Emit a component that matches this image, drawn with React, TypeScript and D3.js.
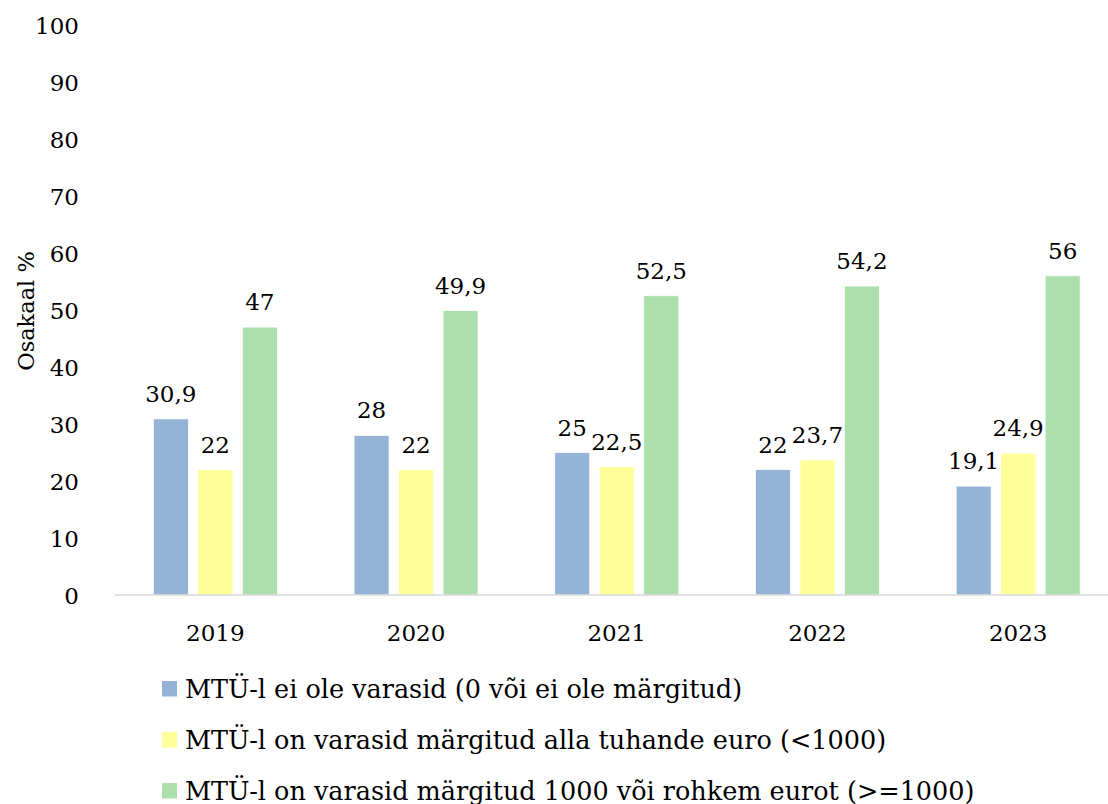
import React from "react";
import * as d3 from "d3";

const years = ["2019", "2020", "2021", "2022", "2023"];
const seriesNames = [
  "MTÜ-l ei ole varasid (0 või ei ole märgitud)",
  "MTÜ-l on varasid märgitud alla tuhande euro (<1000)",
  "MTÜ-l on varasid märgitud 1000 või rohkem eurot (>=1000)",
];
const noAssets = [30.9, 28, 25, 22, 19.1];
const under1000 = [22, 22, 22.5, 23.7, 24.9];
const over1000 = [47, 49.9, 52.5, 54.2, 56];
const colors = ["#95B3D7", "#FFFF99", "#ADDFAD"];
const yTicks = [0, 10, 20, 30, 40, 50, 60, 70, 80, 90, 100];

const W = 1108;
const H = 804;
const FONT = "'DejaVu Serif', serif";
const FS = 23;
const tStyle = { fontFamily: FONT };

export default function App() {
  const series = [noAssets, under1000, over1000];
  const x0 = d3.scaleBand<string>().domain(years).range([115, 115 + 200.7 * 5]).paddingInner(0).paddingOuter(0);
  const y = d3.scaleLinear().domain([0, 100]).range([595, 25]);
  const barW = 35;
  const step = 44.5;
  const groupW = barW * 3 + (step - barW) * 2;
  const fmt = (v: number) => String(v).replace(".", ",");

  return (
    <svg
      width={W}
      height={H}
      style={{ position: "absolute", left: 0, top: 0, background: "#fff", fontFamily: FONT }}
    >
      {yTicks.map((t) => (
        <text key={t} x={79} y={y(t) + 9} textAnchor="end" fontSize={FS} fill="#000" style={tStyle}>
          {t}
        </text>
      ))}
      <text
        transform={`translate(34, ${311}) rotate(-90)`}
        textAnchor="middle"
        fontSize={22.5}
        fill="#000"
        style={tStyle}
      >
        Osakaal %
      </text>
      {years.map((yr, i) => {
        const cx = (x0(yr) as number) + x0.bandwidth() / 2;
        const start = cx - groupW / 2;
        return (
          <g key={yr}>
            {series.map((s, k) => {
              const bx = start + k * step;
              const top = y(s[i]);
              return (
                <g key={k}>
                  <rect
                    x={bx}
                    y={top}
                    width={barW}
                    height={y(0) - top}
                    fill={colors[k]}
                    stroke="#fff"
                    strokeWidth={0.75}
                  />
                  <text x={bx + barW / 2} y={top - 17} textAnchor="middle" fontSize={FS} fill="#000" style={tStyle}>
                    {fmt(s[i])}
                  </text>
                </g>
              );
            })}
            <text x={cx} y={641} textAnchor="middle" fontSize={FS} fill="#000" style={tStyle}>
              {yr}
            </text>
          </g>
        );
      })}
      <line x1={115} x2={W} y1={y(0)} y2={y(0)} stroke="#D9D9D9" strokeWidth={1.5} />
      {seriesNames.map((name, k) => {
        const rowY = 698 + k * 51;
        return (
          <g key={name}>
            <rect x={162} y={rowY - 17} width={15} height={15.5} fill={colors[k]} />
            <text x={185} y={rowY} fontSize={25.5} fill="#000" style={tStyle}>
              {name}
            </text>
          </g>
        );
      })}
    </svg>
  );
}
